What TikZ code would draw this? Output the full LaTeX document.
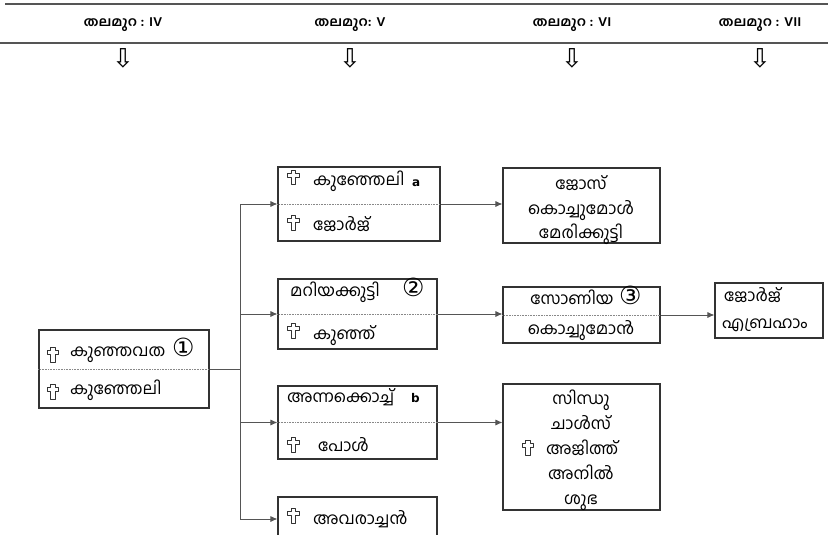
\documentclass[tikz,border=0pt]{standalone}
\usepackage{fontspec}
\usetikzlibrary{arrows.meta}
\newfontfamily\ml[Script=Malayalam]{Hind Kochi}
\newfontfamily\mlh[Script=Malayalam,FakeStretch=1.1]{Hind Kochi}
\newfontfamily\dv{DejaVu Sans}
\newcommand\cnum[1]{{\dv\fontsize{25}{20}\selectfont #1}}
\definecolor{boxc}{HTML}{333333}
\definecolor{linec}{HTML}{555555}
\begin{document}
\begin{tikzpicture}[x=1pt,y=-1pt,
  box/.style={draw=boxc, line width=1.1pt, inner sep=0pt},
  div/.style={draw=linec!70, densely dotted, line width=0.6pt},
  conn/.style={draw=linec, line width=0.8pt},
  arr/.style={conn, -{Latex[length=7pt,width=6pt]}},
  txt/.style={inner sep=0pt, anchor=west, text height=12pt, text depth=4pt, font=\ml\fontsize{16.5}{19}\selectfont},
  ctxt/.style={txt, anchor=center},
  lab/.style={txt, font=\dv\bfseries\fontsize{12}{14}\selectfont},
  hdr/.style={inner sep=0pt, font=\mlh\bfseries\fontsize{13}{16}\selectfont},
  harr/.style={inner sep=0pt, font=\dv\fontsize{26}{26}\selectfont},
  crossmark/.pic={\draw[boxc, line width=1.1pt, line join=round]
    (-2.1,-7.3) -- (2.1,-7.3) -- (2.1,-4.2) -- (5.8,-4.2) -- (5.8,-0.2) -- (2.1,-0.2)
    -- (2.1,7.3) -- (-2.1,7.3) -- (-2.1,-0.2) -- (-5.8,-0.2) -- (-5.8,-4.2) -- (-2.1,-4.2) -- cycle;}]
\useasboundingbox (0,0) rectangle (828,535);
% header rules
\draw[line width=1.6pt, linec] (5,4) -- (828,4);
\draw[line width=1.6pt, linec] (0,43) -- (828,43);
\node[hdr] (h4) at (123,25) {തലമുറ : IV};
\node[hdr] (h5) at (350,25) {തലമുറ: V};
\node[hdr] (h6) at (572,25) {തലമുറ : VI};
\node[hdr] (h7) at (760,25) {തലമുറ : VII};
\node[harr] (a4) at (123,58) {⇩};
\node[harr] (a5) at (350,58) {⇩};
\node[harr] (a6) at (572,58) {⇩};
\node[harr] (a7) at (760,58) {⇩};
% boxes
\node[box, minimum width=170pt, minimum height=78pt] (L) at (124,369) {};
\node[box, minimum width=162pt, minimum height=74pt] (V1) at (359,204) {};
\node[box, minimum width=159pt, minimum height=70pt] (V2) at (357.5,314) {};
\node[box, minimum width=159pt, minimum height=73pt] (V3) at (357.5,422.5) {};
\node[box, minimum width=159pt, minimum height=44pt] (V4) at (357.5,519) {};
\node[box, minimum width=157pt, minimum height=75pt] (W1) at (581.5,205.5) {};
\node[box, minimum width=157pt, minimum height=56pt] (W2) at (581.5,315) {};
\node[box, minimum width=157pt, minimum height=126pt] (W3) at (581.5,447) {};
\node[box, minimum width=108pt, minimum height=55pt] (X1) at (769,310.5) {};
% dividers
\draw[div] (L.west) -- (L.east);
\draw[div] (V1.west) -- (V1.east);
\draw[div] (V2.west) -- (V2.east);
\draw[div] (V3.west) -- (V3.east);
\draw[div] (W2.west) -- (W2.east);
% crosses
\pic at (53,355) {crossmark};
\pic at (53,392) {crossmark};
\pic at (293.5,177.5) {crossmark};
\pic at (293.5,223) {crossmark};
\pic at (293.5,331) {crossmark};
\pic at (293.5,445) {crossmark};
\pic at (293.5,516) {crossmark};
\pic at (528,448) {crossmark};
% texts: left box
\node[txt] (l1) at (70,352) {കുഞ്ഞവത};
\node[txt] (l1n) at (172,352) {\cnum{①}};
\node[txt] (l2) at (70,390) {കുഞ്ഞേലി};
% V1
\node[txt] (v1) at (313,181) {കുഞ്ഞേലി};
\node[lab] (v1a) at (412,182) {a};
\node[txt] (v2) at (313,226) {ജോർജ്};
% V2
\node[txt] (v3) at (290,292) {മറിയക്കുട്ടി};
\node[txt] (v3n) at (402,292) {\cnum{②}};
\node[txt] (v4) at (313,335) {കുഞ്ഞ്};
% V3
\node[txt] (v5) at (287,398) {അന്നക്കൊച്ച്};
\node[lab] (v5b) at (411,398) {b};
\node[txt] (v6) at (318,447) {പോൾ};
% V4
\node[txt] (v7) at (313,520) {അവരാച്ചൻ};
% W1
\node[ctxt] (w1) at (581,185) {ജോസ്};
\node[ctxt] (w2) at (581,210) {കൊച്ചുമോൾ};
\node[ctxt] (w3) at (581,234) {മേരിക്കുട്ടി};
% W2
\node[ctxt] (w4) at (572,300) {സോണിയ};
\node[txt] (w4n) at (619,300) {\cnum{③}};
\node[ctxt] (w5) at (581,330) {കൊച്ചുമോൻ};
% W3
\node[ctxt] (w6) at (581,400) {സിന്ധു};
\node[ctxt] (w7) at (581,425) {ചാൾസ്};
\node[txt] (w8) at (546,450) {അജിത്ത്};
\node[ctxt] (w9) at (581,475) {അനിൽ};
\node[ctxt] (w10) at (581,500) {ശുഭ};
% X1
\node[txt] (x1) at (724,297) {ജോർജ്};
\node[txt] (x2) at (722,324) {എബ്രഹാം};
% connectors
\coordinate (j) at (240,369);
\draw[conn] (L.east) -- (j);
\draw[conn] (V1.west -| j) -- (V4.west -| j);
\draw[arr] (V1.west -| j) -- (V1.west);
\draw[arr] (V2.west -| j) -- (V2.west);
\draw[arr] (V3.west -| j) -- (V3.west);
\draw[arr] (V4.west -| j) -- (V4.west);
\draw[arr] (V1.east) -- (V1.east -| W1.west);
\draw[arr] (V2.east) -- (V2.east -| W2.west);
\draw[arr] (V3.east) -- (V3.east -| W3.west);
\draw[arr] (W2.east) -- (W2.east -| X1.west);
\end{tikzpicture}
\end{document}
